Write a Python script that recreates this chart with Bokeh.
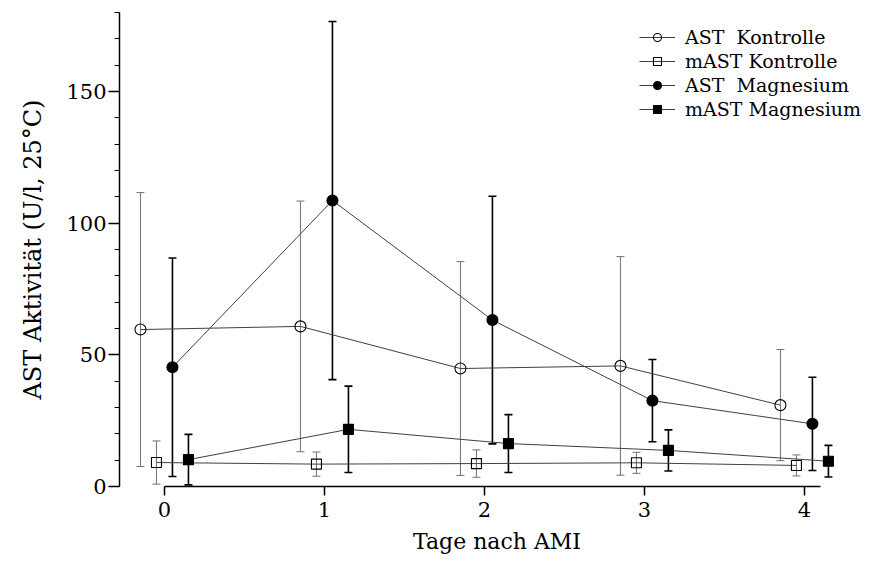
from bokeh.plotting import figure
from bokeh.models import (ColumnDataSource, Whisker, TeeHead, FixedTicker,
                          Legend, LegendItem, Range1d)
from bokeh.embed import file_html
from bokeh.resources import INLINE

# ---- data ----
days = [0, 1, 2, 3, 4]
ast_k_mean = [59.6, 60.8, 44.8, 45.8, 30.9]
ast_k_sd = [52.0, 47.6, 40.6, 41.5, 21.1]
mast_k_mean = [9.1, 8.5, 8.7, 9.0, 8.0]
mast_k_sd = [8.2, 4.6, 5.2, 4.0, 4.0]
ast_m_mean = [45.3, 108.6, 63.2, 32.6, 23.8]
ast_m_sd = [41.5, 68.0, 47.0, 15.6, 17.7]
mast_m_mean = [10.2, 21.7, 16.3, 13.7, 9.6]
mast_m_sd = [9.6, 16.4, 11.0, 7.8, 6.0]

x_ticks = [0, 1, 2, 3, 4]
y_ticks = [0, 50, 100, 150]
y_minor = list(range(0, 190, 10))

FONT = "DejaVu Serif"

p = figure(width=877, height=561, output_backend="svg", toolbar_location=None,
           x_range=Range1d(-0.281, 4.438), y_range=Range1d(0, 180),
           min_border_left=119, min_border_right=3, min_border_top=12,
           min_border_bottom=75)
p.grid.visible = False
p.outline_line_color = None
p.background_fill_color = "white"
p.border_fill_color = "white"

series = [
    ("AST  Kontrolle", ast_k_mean, ast_k_sd, -0.15, "circle", None, "#707070", 1.0, 11),
    ("mAST Kontrolle", mast_k_mean, mast_k_sd, -0.05, "square", None, "#707070", 1.0, 10),
    ("AST  Magnesium", ast_m_mean, ast_m_sd, 0.05, "circle", "black", "black", 1.6, 11),
    ("mAST Magnesium", mast_m_mean, mast_m_sd, 0.15, "square", "black", "black", 1.6, 10),
]

items = []
for label, mean, sd, off, marker, fill, ecol, ew, size in series:
    xs = [d + off for d in days]
    src = ColumnDataSource(dict(
        x=xs, y=mean,
        upper=[m + s for m, s in zip(mean, sd)],
        lower=[max(m - s, 0) for m, s in zip(mean, sd)],
    ))
    w = Whisker(source=src, base="x", upper="upper", lower="lower",
                line_color=ecol, line_width=ew, level="underlay",
                upper_head=TeeHead(size=8, line_color=ecol, line_width=ew),
                lower_head=TeeHead(size=8, line_color=ecol, line_width=ew))
    p.add_layout(w)
    ln = p.line("x", "y", source=src, line_color="#404040", line_width=1.0)
    sc = p.scatter("x", "y", source=src, marker=marker, size=size,
                   line_color="black", line_width=1.1,
                   fill_color=fill)
    items.append(LegendItem(label=label, renderers=[ln, sc]))

legend = Legend(items=items, location=(520, 366),
                glyph_width=36, glyph_height=20, label_height=20,
                label_standoff=10, spacing=2, padding=0, margin=0,
                border_line_color=None, background_fill_alpha=0,
                label_text_font=FONT, label_text_font_size="19px",
                label_text_color="black")
p.add_layout(legend)

# axes
xa = p.xaxis[0]
xa.ticker = FixedTicker(ticks=x_ticks)
xa.bounds = (0, 4.1)
xa.minor_tick_line_color = None
xa.axis_line_color = "black"
xa.major_tick_line_color = "black"
xa.major_tick_out = 9
xa.major_tick_in = 0
xa.axis_line_width = 1.5
xa.major_tick_line_width = 1.5
xa.major_label_text_font = FONT
xa.major_label_text_font_size = "21px"
xa.major_label_text_color = "black"
xa.major_label_standoff = 6
xa.axis_label = "Tage nach AMI"
xa.axis_label_text_font = FONT
xa.axis_label_text_font_style = "normal"
xa.axis_label_text_font_size = "22px"
xa.axis_label_text_color = "black"
xa.axis_label_standoff = 9

ya = p.yaxis[0]
ya.ticker = FixedTicker(ticks=y_ticks, minor_ticks=y_minor)
ya.bounds = (0, 180)
ya.axis_line_color = "black"
ya.major_tick_line_color = "black"
ya.minor_tick_line_color = "black"
ya.major_tick_out = 11
ya.major_tick_in = 0
ya.minor_tick_out = 5
ya.minor_tick_in = 0
ya.axis_line_width = 1.5
ya.major_tick_line_width = 1.5
ya.minor_tick_line_width = 1.2
ya.major_label_text_font = FONT
ya.major_label_text_font_size = "21px"
ya.major_label_text_color = "black"
ya.major_label_standoff = 2
ya.axis_label = "AST Aktivität (U/l, 25°C)"
ya.axis_label_text_font = FONT
ya.axis_label_text_font_style = "normal"
ya.axis_label_text_font_size = "24px"
ya.axis_label_text_color = "black"
ya.axis_label_standoff = 16

open("out.html", "w").write(file_html(p, INLINE))
